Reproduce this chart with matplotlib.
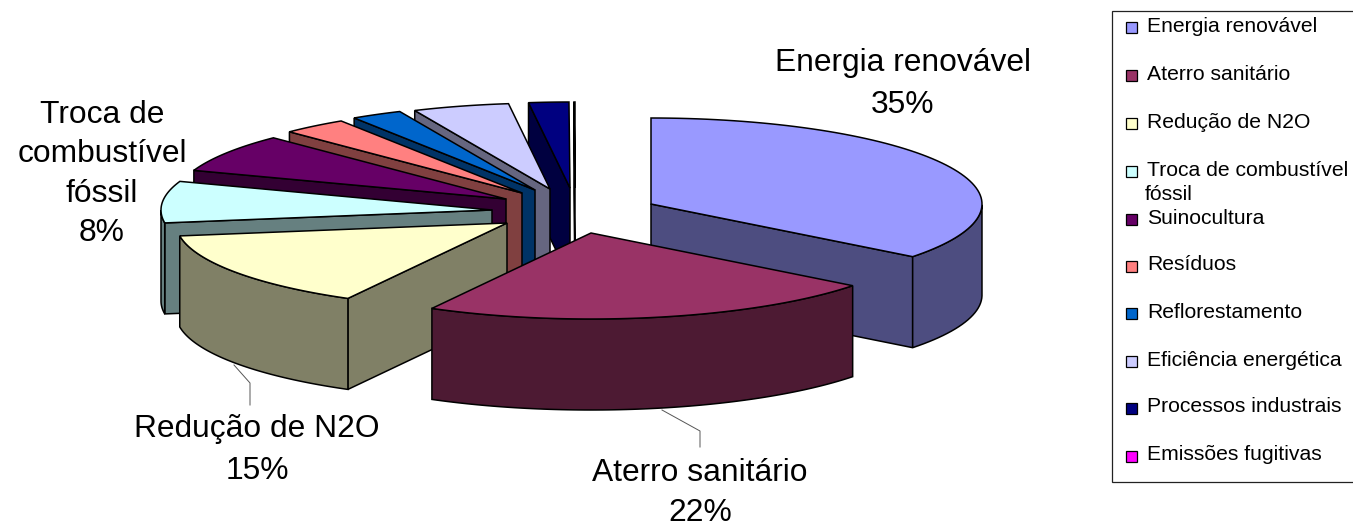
import numpy as np
import matplotlib
matplotlib.use("Agg")
import matplotlib.pyplot as plt
from matplotlib.patches import Polygon, Rectangle

plt.rcParams['font.family'] = ['Liberation Sans', 'DejaVu Sans']

# dados do grafico
categorias = ["Energia renovável", "Aterro sanitário", "Redução de N2O",
              "Troca de combustível\nfóssil", "Suinocultura", "Resíduos",
              "Reflorestamento", "Eficiência energética", "Processos industrais",
              "Emissões fugitivas"]
valores = [35.49, 22.49, 14.62, 7.8, 7.2, 3.2, 2.5, 4.7, 1.95, 0.05]
cores = ["#9999FF", "#993366", "#FFFFCC", "#CCFFFF", "#660066",
         "#FF8080", "#0066CC", "#CCCCFF", "#000080", "#FF00FF"]
rotulos = {0: "Energia renovável\n35%", 1: "Aterro sanitário\n22%",
           2: "Redução de N2O\n15%", 3: "Troca de\ncombustível\nfóssil\n8%"}

# geometria da pizza 3D (pixels da imagem)
RAIO_X, RAIO_Y, ALTURA = 331, 86, 91
# vertice de cada fatia depois de "explodir"
vertice_x = [651, 591, 507, 492, 506, 522, 535, 550, 570, 575]
vertice_y = [204, 233, 223, 210, 199, 193, 190, 189, 188, 188]

fig = plt.figure(figsize=(13.53, 5.27), dpi=100)
ax = fig.add_axes([0, 0, 1, 1])
ax.set_xlim(0, 1353)
ax.set_ylim(527, 0)
ax.axis('off')

LW = 1.1


def escurece(cor):
    r, g, b = matplotlib.colors.to_rgb(cor)
    return (r * 0.5, g * 0.5, b * 0.5)


def ponto(cx, cy, t):
    return cx + RAIO_X * np.sin(t), cy - RAIO_Y * np.cos(t)


def desenha_fatia(i, ini, fim, z):
    cx, cy = vertice_x[i], vertice_y[i]
    topo = cores[i]
    lado = escurece(topo)
    ts = np.linspace(ini, fim, 80)
    xs, ys = ponto(cx, cy, ts)

    # faces de corte viradas para frente
    def corte(t):
        x, y = ponto(cx, cy, t)
        return [(cx, cy), (x, y), (x, y + ALTURA), (cx, cy + ALTURA)]

    frente = []
    if np.sin(ini) < -1e-6:
        frente.append(corte(ini))
    if np.sin(fim) > 1e-6:
        frente.append(corte(fim))
    for face in frente:
        ax.add_patch(Polygon(face, closed=True, fc=lado, ec='black', lw=LW, zorder=z))

    # parede externa, so a parte virada para frente
    vis = np.cos(ts) <= 0.0
    if vis.any():
        px, py = xs[vis], ys[vis]
        parede = np.column_stack([np.r_[px, px[::-1]], np.r_[py, py[::-1] + ALTURA]])
        ax.add_patch(Polygon(parede, closed=True, fc=lado, ec='black', lw=LW, zorder=z))

    tampa = np.column_stack([np.r_[cx, xs], np.r_[cy, ys]])
    ax.add_patch(Polygon(tampa, closed=True, fc=topo, ec='black', lw=LW, zorder=z))


limites = np.cumsum([0] + valores) / sum(valores) * 2 * np.pi
# ordem de pintura: de tras para frente
ordem = [9, 8, 7, 6, 5, 4, 3, 0, 2, 1]
for z, i in enumerate(ordem, start=2):
    desenha_fatia(i, limites[i], limites[i + 1], z)

# rotulos
FS = 22.9
ax.text(903, 84, rotulos[0], fontsize=FS, ha='center', va='center', linespacing=1.52)
ax.text(700, 493, rotulos[1], fontsize=FS, ha='center', va='center', linespacing=1.4)
ax.text(257, 450, rotulos[2], fontsize=FS, ha='center', va='center', linespacing=1.48)
ax.text(102, 174, rotulos[3], fontsize=FS, ha='center', va='center', linespacing=1.4)

# linhas de chamada
ax.plot([662, 700, 700], [410, 431, 447], color='#555555', lw=0.7, zorder=20)
ax.plot([234, 250, 250], [365, 383, 405], color='#555555', lw=0.7, zorder=20)

# legenda desenhada a mao para acompanhar o espacamento original
ax.add_patch(Rectangle((1111.5, 10.5), 260, 471.5, fc='white', ec='#222222', lw=0.9, zorder=1))
leg_y = [26, 74, 122, 170, 218, 265, 312, 360, 407, 455]
for nome, cor, y in zip(categorias, cores, leg_y):
    ax.add_patch(Rectangle((1126, y - 4.5), 11, 11, fc=cor, ec='black', lw=0.9, zorder=3))
    primeira = nome.split("\n")
    ax.text(1147, y, primeira[0], fontsize=15.2, ha='left', va='center', zorder=3)
    if len(primeira) > 1:
        ax.text(1145, y + 25, primeira[1], fontsize=15.2, ha='left', va='center', zorder=3)

fig.savefig("out.png", dpi=100)
